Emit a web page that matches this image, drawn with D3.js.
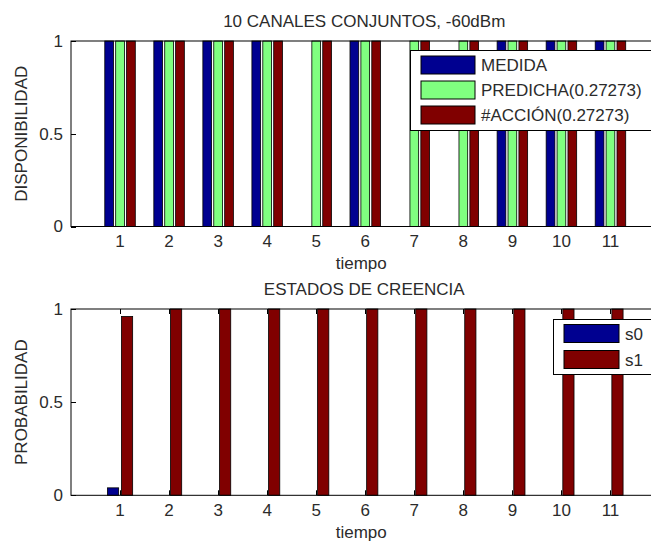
<!DOCTYPE html>
<html>
<head>
<meta charset="utf-8">
<script src="https://cdn.jsdelivr.net/npm/d3@7"></script>
<style>
  html, body { margin: 0; padding: 0; background: #fff; }
  svg { display: block; }
  text { font-family: "Liberation Sans", Arial, sans-serif; fill: #2b2b2b; }
</style>
</head>
<body>
<svg id="chart" width="651" height="544"></svg>
<script>
// ---- data ----
const tiempo = [1, 2, 3, 4, 5, 6, 7, 8, 9, 10, 11];
const medida   = [1, 1, 1, 1, 0, 1, 0, 0, 1, 1, 1];
const predicha = [1, 1, 1, 1, 1, 1, 1, 1, 1, 1, 1];
const accion   = [1, 1, 1, 1, 1, 1, 1, 1, 1, 1, 1];
const s0 = [0.04, 0, 0, 0, 0, 0, 0, 0, 0, 0, 0];
const s1 = [0.96, 1, 1, 1, 1, 1, 1, 1, 1, 1, 1];
const xTicks = [1, 2, 3, 4, 5, 6, 7, 8, 9, 10, 11];
const yTicks = [0, 0.5, 1];
const yTickLabels = ["0", "0.5", "1"];
const topTitle = "10 CANALES CONJUNTOS, -60dBm";
const bottomTitle = "ESTADOS DE CREENCIA";
const topLegend = ["MEDIDA", "PREDICHA(0.27273)", "#ACCIÓN(0.27273)"];
const bottomLegend = ["s0", "s1"];
const colors3 = ["#000090", "#80ff80", "#800000"];
const colors2 = ["#000090", "#800000"];

const svg = d3.select("#chart");
const FS = 17;

function panel(cfg) {
  const x = d3.scaleLinear().domain([0, 12]).range([cfg.left, cfg.right]);
  const y = d3.scaleLinear().domain([0, 1]).range([cfg.bottom, cfg.top]);
  const g = svg.append("g");

  // ticks (below bars), inward, on all four sides
  const tl = 5;
  xTicks.forEach(t => {
    const px = Math.round(x(t)) + 0.5;
    g.append("line").attr("x1", px).attr("x2", px).attr("y1", y(0)).attr("y2", y(0) - tl).attr("stroke", "#000");
    g.append("line").attr("x1", px).attr("x2", px).attr("y1", y(1)).attr("y2", y(1) + tl).attr("stroke", "#000");
  });
  yTicks.forEach(t => {
    const py = Math.round(y(t)) + 0.5;
    g.append("line").attr("x1", x(0)).attr("x2", x(0) + tl).attr("y1", py).attr("y2", py).attr("stroke", "#000");
    g.append("line").attr("x1", x(12)).attr("x2", x(12) - tl).attr("y1", py).attr("y2", py).attr("stroke", "#000");
  });

  // bars
  const n = cfg.series.length;
  const groupW = Math.min(0.8, n / (n + 1.5));
  const step = groupW / n;
  const bw = step * 0.8;
  cfg.series.forEach((vals, si) => {
    const off = (si - (n - 1) / 2) * step;
    g.selectAll(null).data(vals.map((v, i) => ({ t: tiempo[i], v })))
      .enter().append("rect")
      .attr("x", d => x(d.t + off - bw / 2))
      .attr("width", d => x(bw) - x(0))
      .attr("y", d => y(d.v))
      .attr("height", d => y(0) - y(d.v))
      .attr("fill", cfg.colors[si])
      .attr("stroke", "#000")
      .attr("stroke-width", 0.8);
  });

  // frame
  g.append("rect")
    .attr("x", x(0)).attr("y", y(1))
    .attr("width", x(12) - x(0)).attr("height", y(0) - y(1))
    .attr("fill", "none").attr("stroke", "#000").attr("stroke-width", 1);

  // tick labels
  xTicks.forEach(t => {
    g.append("text").attr("x", x(t)).attr("y", y(0) + 20.5)
      .attr("text-anchor", "middle").attr("font-size", FS).text(t);
  });
  yTicks.forEach((t, i) => {
    g.append("text").attr("x", cfg.left - 8).attr("y", y(t)).attr("dy", "0.35em")
      .attr("text-anchor", "end").attr("font-size", FS).text(yTickLabels[i]);
  });

  // title, labels
  g.append("text").attr("x", (x(0) + x(12)) / 2 - 1).attr("y", cfg.top - 14.5)
    .attr("text-anchor", "middle").attr("font-size", FS).text(cfg.title);
  g.append("text").attr("x", (x(0) + x(12)) / 2 - 4).attr("y", y(0) + 42.5)
    .attr("text-anchor", "middle").attr("font-size", FS).text("tiempo");
  g.append("text").attr("transform", `translate(27,${(y(0) + y(1)) / 2}) rotate(-90)`)
    .attr("text-anchor", "middle").attr("font-size", FS).text(cfg.ylabel);

  // legend
  const L = cfg.legend;
  const lg = g.append("g");
  lg.append("rect").attr("x", L.x + 0.5).attr("y", L.y + 0.5).attr("width", L.w).attr("height", L.h)
    .attr("fill", "#fff").attr("stroke", "#000");
  L.labels.forEach((lab, i) => {
    const cy = L.firstCy + i * L.rowH;
    lg.append("rect").attr("x", L.x + 11).attr("y", cy - 9).attr("width", L.swW).attr("height", 18)
      .attr("fill", cfg.colors[i]).attr("stroke", "#000").attr("stroke-width", 1);
    lg.append("text").attr("x", L.x + L.swW + 17).attr("y", cy).attr("dy", "0.36em")
      .attr("font-size", FS).text(lab);
  });
}

panel({
  left: 71, right: 659.5, top: 41, bottom: 226.5,
  series: [medida, predicha, accion], colors: colors3,
  title: topTitle, ylabel: "DISPONIBILIDAD",
  legend: { x: 410, y: 50, w: 241, h: 80, swW: 54, firstCy: 65, rowH: 25, labels: topLegend }
});

panel({
  left: 71, right: 659.5, top: 309, bottom: 495.3,
  series: [s0, s1], colors: colors2,
  title: bottomTitle, ylabel: "PROBABILIDAD",
  legend: { x: 553, y: 319, w: 98, h: 55, swW: 55, firstCy: 333.5, rowH: 26, labels: bottomLegend }
});
</script>
</body>
</html>
